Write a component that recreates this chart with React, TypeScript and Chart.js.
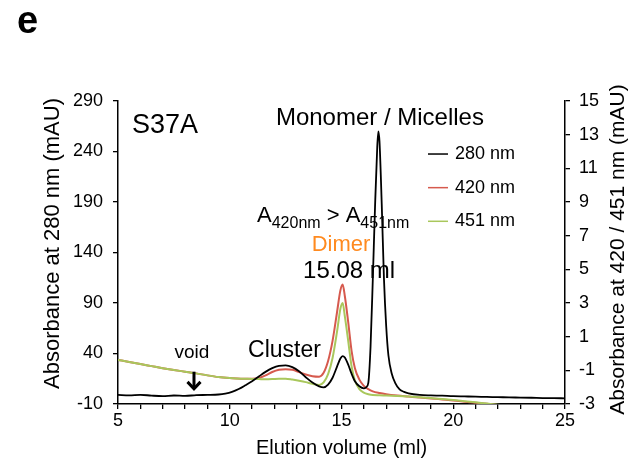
import React, { useEffect, useRef } from 'react';
import { Chart, registerables } from 'chart.js';

Chart.register(...registerables);

const FONT = '"Liberation Sans", Arial, Helvetica, sans-serif';

// Elution volume (ml) vs absorbance at 280 nm (left axis, mAU)
const abs280: [number, number][] = [
  [5, -1], [5.5, -1.4], [6, -0.9], [6.5, -1.7], [7, -2.2], [7.5, -1.6], [8, -2], [8.5, -1.2],
  [9, -1], [9.5, -0.6], [9.8, 0.3], [10.1, 2], [10.4, 4.8], [10.7, 8.5], [11.0, 12.5], [11.3, 17.2],
  [11.6, 21.8], [11.9, 25.5], [12.2, 27.8], [12.5, 28.2], [12.8, 26.5], [13.1, 22.5], [13.4, 16.5],
  [13.7, 11.2], [14.0, 7.5], [14.2, 6.5], [14.4, 9.2], [14.6, 16], [14.8, 27], [14.95, 35],
  [15.05, 37.5], [15.15, 36], [15.3, 29], [15.45, 20], [15.6, 12.5], [15.8, 7.5], [16.0, 5.5],
  [16.1, 6.5], [16.2, 11], [16.3, 47], [16.4, 113], [16.5, 185], [16.6, 245], [16.65, 260],
  [16.7, 250], [16.8, 188], [16.9, 114], [17.0, 67], [17.1, 38], [17.25, 20], [17.4, 11],
  [17.6, 4.5], [17.8, 2], [18.0, 0.6], [18.5, -1], [19, -1.5], [19.5, -1.8], [20, -2.3],
  [20.5, -2.5], [21, -2.7], [21.5, -3], [22, -3.2], [22.5, -3.5], [23, -3.6], [23.5, -3.8],
  [24, -4.1], [24.5, -4.2], [25, -4.4],
];

// absorbance at 420 nm (right axis, mAU)
const abs420: [number, number][] = [
  [5, -0.38], [5.5, -0.5], [6, -0.63], [6.5, -0.75], [7, -0.87], [7.5, -0.98], [8, -1.08],
  [8.5, -1.18], [9, -1.3], [9.5, -1.4], [10, -1.46], [10.5, -1.5], [11, -1.5], [11.3, -1.46],
  [11.6, -1.3], [11.9, -1.1], [12.2, -0.97], [12.5, -0.93], [12.8, -0.97], [13.1, -1.1],
  [13.4, -1.25], [13.7, -1.35], [14.0, -1.38], [14.2, -1.15], [14.4, -0.45], [14.6, 0.75],
  [14.8, 2.45], [14.95, 3.75], [15.05, 4.1], [15.15, 3.4], [15.3, 1.86], [15.45, 0.16],
  [15.6, -0.87], [15.8, -1.55], [16.0, -1.92], [16.2, -2.12], [16.4, -2.25], [16.7, -2.35],
  [17.0, -2.42], [17.5, -2.5], [18, -2.56], [18.5, -2.62], [19, -2.67], [19.5, -2.73],
  [20, -2.79], [20.5, -2.86], [21, -2.92], [21.5, -2.99], [22, -3.06], [22.5, -3.13], [23, -3.2],
];

// absorbance at 451 nm (right axis, mAU)
const abs451: [number, number][] = [
  [5, -0.38], [5.5, -0.5], [6, -0.63], [6.5, -0.75], [7, -0.87], [7.5, -0.98], [8, -1.08],
  [8.5, -1.18], [9, -1.3], [9.5, -1.4], [10, -1.46], [10.5, -1.5], [11, -1.51], [11.3, -1.52],
  [11.6, -1.53], [11.9, -1.52], [12.2, -1.5], [12.5, -1.5], [12.8, -1.55], [13.1, -1.62],
  [13.4, -1.7], [13.7, -1.8], [14.0, -1.87], [14.2, -1.72], [14.4, -1.23], [14.6, -0.27],
  [14.8, 1.3], [14.95, 2.65], [15.05, 3.0], [15.15, 2.2], [15.3, 0.75], [15.45, -0.75],
  [15.6, -1.6], [15.8, -2.12], [16.0, -2.33], [16.2, -2.42], [16.4, -2.47], [16.7, -2.48],
  [17.0, -2.5], [17.5, -2.52], [18, -2.55], [18.5, -2.6], [19, -2.65], [19.5, -2.7],
  [20, -2.76], [20.5, -2.83], [21, -2.9], [21.5, -2.97], [22, -3.04], [22.5, -3.12], [23, -3.2],
];

const seriesLabels = ['280 nm', '420 nm', '451 nm'];
const seriesColors = ['#000000', '#D65A4E', '#A9C75C'];

const xRange = [5, 25];
const leftRange = [-10, 290];
const rightRange = [-3, 15];

const figureLetter = 'e';
const xTitle = 'Elution volume (ml)';
const leftTitle = 'Absorbance at 280 nm (mAU)';
const rightTitle = 'Absorbance at 420 / 451 nm (mAU)';

// annotations anchored at data coordinates (ml, mAU on left axis)
const labels = [
  { text: 'S37A', x: 5.63, y: 258, size: 27, color: '#000', align: 'left' },
  { text: 'Monomer / Micelles', x: 16.72, y: 266, size: 24, color: '#000', align: 'center' },
  { text: 'Dimer', x: 14.98, y: 141, size: 22, color: '#FF8A1F', align: 'center' },
  { text: '15.08 ml', x: 15.34, y: 115, size: 24, color: '#000', align: 'center' },
  { text: 'Cluster', x: 12.45, y: 36.6, size: 23, color: '#000', align: 'center' },
  { text: 'void', x: 8.31, y: 35.6, size: 19, color: '#000', align: 'center' },
];
const ratioLabel = { x: 11.22, y: 170.5 };
const voidArrow = { x: 8.4, yTop: 22, yBottom: 4 };
const legendAnchor = { x: 18.87, y: 237.5, step: 33.3 };

const overlayPlugin = {
  id: 'overlay',
  afterDatasetsDraw(chart: any) {
    const { ctx, scales } = chart;
    const sx = scales.x;
    const sy = scales.y;
    const px = (v: number) => sx.getPixelForValue(v);
    const py = (v: number) => sy.getPixelForValue(v);
    ctx.save();
    ctx.textBaseline = 'alphabetic';
    // figure letter
    ctx.fillStyle = '#000';
    ctx.font = `bold 38px ${FONT}`;
    ctx.textAlign = 'left';
    ctx.fillText(figureLetter, 17, 33);

    for (const l of labels) {
      ctx.font = `${l.size}px ${FONT}`;
      ctx.fillStyle = l.color;
      ctx.textAlign = l.align as CanvasTextAlign;
      ctx.fillText(l.text, px(l.x), py(l.y));
    }

    // A420nm > A451nm with subscripts
    {
      let x = px(ratioLabel.x);
      const y = py(ratioLabel.y);
      ctx.fillStyle = '#000';
      ctx.textAlign = 'left';
      const parts: [string, boolean][] = [['A', false], ['420nm', true], [' > A', false], ['451nm', true]];
      for (const [t, sub] of parts) {
        ctx.font = sub ? `16px ${FONT}` : `22px ${FONT}`;
        ctx.fillText(t, x, sub ? y + 6 : y);
        x += ctx.measureText(t).width;
      }
    }

    // void arrow
    {
      const ax = px(voidArrow.x);
      const y0 = py(voidArrow.yTop);
      const y1 = py(voidArrow.yBottom);
      ctx.strokeStyle = '#000';
      ctx.lineWidth = 3;
      ctx.lineCap = 'butt';
      ctx.beginPath();
      ctx.moveTo(ax, y0);
      ctx.lineTo(ax, y1 - 2);
      ctx.stroke();
      ctx.lineJoin = 'miter';
      ctx.beginPath();
      ctx.moveTo(ax - 6.5, y1 - 8);
      ctx.lineTo(ax, y1 - 1);
      ctx.lineTo(ax + 6.5, y1 - 8);
      ctx.stroke();
    }

    // legend
    ctx.font = `18px ${FONT}`;
    ctx.textAlign = 'left';
    ctx.textBaseline = 'middle';
    seriesLabels.forEach((lab, i) => {
      const yy = py(legendAnchor.y - i * legendAnchor.step);
      const x0 = px(legendAnchor.x);
      ctx.strokeStyle = seriesColors[i];
      ctx.lineWidth = 1.5;
      ctx.beginPath();
      ctx.moveTo(x0, yy);
      ctx.lineTo(x0 + 20, yy);
      ctx.stroke();
      ctx.fillStyle = '#000';
      ctx.fillText(lab, x0 + 27, yy);
    });

    const area = chart.chartArea;
    // left axis title (reads bottom-to-top)
    ctx.save();
    ctx.translate(53, (area.top + area.bottom) / 2 - 9);
    ctx.rotate(-Math.PI / 2);
    ctx.font = `22px ${FONT}`;
    ctx.fillStyle = '#000';
    ctx.textAlign = 'center';
    ctx.textBaseline = 'middle';
    ctx.fillText(leftTitle, 0, 0);
    ctx.restore();

    // right axis title (reads bottom-to-top)
    ctx.save();
    ctx.translate(chart.width - 10, (area.top + area.bottom) / 2 - 3);
    ctx.rotate(-Math.PI / 2);
    ctx.font = `21px ${FONT}`;
    ctx.fillStyle = '#000';
    ctx.textAlign = 'center';
    ctx.textBaseline = 'middle';
    ctx.fillText(rightTitle, 0, 0);
    ctx.restore();

    ctx.restore();
  },
};

export default function App() {
  const ref = useRef<HTMLCanvasElement | null>(null);
  useEffect(() => {
    if (!ref.current) return;
    const axisCommon = {
      grid: { drawOnChartArea: false, drawTicks: true, tickLength: 5, color: '#000', lineWidth: 1.3 },
      border: { display: true, color: '#000', width: 1.5 },
    };
    const chart = new Chart(ref.current, {
      type: 'line',
      data: {
        datasets: [
          {
            label: seriesLabels[0],
            data: abs280.map(([x, y]) => ({ x, y })),
            borderColor: seriesColors[0],
            borderWidth: 1.8,
            yAxisID: 'y',
            order: 0,
          },
          {
            label: seriesLabels[1],
            data: abs420.map(([x, y]) => ({ x, y })),
            borderColor: seriesColors[1],
            borderWidth: 2,
            yAxisID: 'y1',
            order: 2,
          },
          {
            label: seriesLabels[2],
            data: abs451.map(([x, y]) => ({ x, y })),
            borderColor: seriesColors[2],
            borderWidth: 2,
            yAxisID: 'y1',
            order: 1,
          },
        ],
      },
      options: {
        responsive: false,
        animation: false,
        events: [],
        layout: { padding: { top: 101, left: 0, right: 0, bottom: 0 } },
        elements: {
          point: { radius: 0 },
          line: { cubicInterpolationMode: 'monotone', fill: false },
        },
        plugins: { legend: { display: false }, tooltip: { enabled: false } },
        scales: {
          x: {
            type: 'linear',
            position: 'bottom',
            min: xRange[0],
            max: xRange[1],
            ...axisCommon,
            ticks: {
              stepSize: 1,
              autoSkip: false,
              maxRotation: 0,
              padding: 1,
              color: '#000',
              font: { family: FONT, size: 18 },
              callback: (v: any) => (Number(v) % 5 === 0 ? String(v) : ''),
            },
            title: {
              display: true,
              text: xTitle,
              color: '#000',
              font: { family: FONT, size: 20 },
              padding: { top: 0, bottom: 4 },
            },
            afterFit: (s: any) => { s.height = 60; },
          },
          y: {
            type: 'linear',
            position: 'left',
            min: leftRange[0],
            max: leftRange[1],
            ...axisCommon,
            ticks: {
              stepSize: 50,
              padding: 10,
              color: '#000',
              font: { family: FONT, size: 18 },
            },
            afterFit: (s: any) => { s.width = 118; },
          },
          y1: {
            type: 'linear',
            position: 'right',
            min: rightRange[0],
            max: rightRange[1],
            ...axisCommon,
            ticks: {
              stepSize: 2,
              padding: 9,
              color: '#000',
              font: { family: FONT, size: 18 },
            },
            afterFit: (s: any) => { s.width = 63; },
          },
        },
      },
      plugins: [overlayPlugin],
    } as any);
    return () => chart.destroy();
  }, []);
  return (
    <div style={{ position: 'fixed', left: 0, top: 0, width: 628, height: 464, background: '#fff' }}>
      <canvas ref={ref} width={628} height={464} style={{ width: 628, height: 464, display: 'block' }} />
    </div>
  );
}
